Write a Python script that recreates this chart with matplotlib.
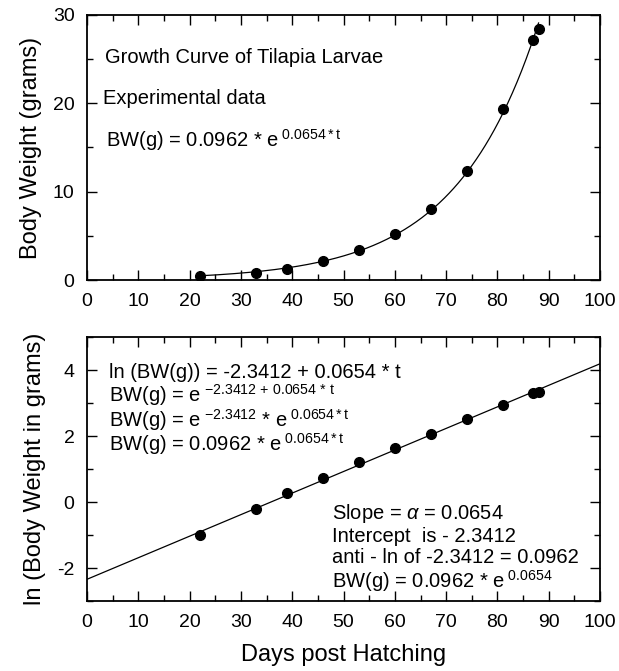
import numpy as np
import matplotlib
matplotlib.use("Agg")
import matplotlib.pyplot as plt
from matplotlib.ticker import MultipleLocator

plt.rcParams['font.family'] = ['Liberation Sans', 'DejaVu Sans']
plt.rcParams['mathtext.fontset'] = 'custom'
plt.rcParams['mathtext.rm'] = 'Liberation Sans'
plt.rcParams['mathtext.it'] = 'Liberation Sans:italic'
plt.rcParams['axes.unicode_minus'] = False

# data
days = [22, 33, 39, 46, 53, 60, 67, 74, 81, 87, 88]
weight = [0.4, 0.8, 1.3, 2.1, 3.4, 5.2, 8.0, 12.3, 19.4, 27.2, 28.4]
ln_weight = [-1.0, -0.22, 0.28, 0.73, 1.21, 1.64, 2.07, 2.51, 2.96, 3.30, 3.34]

intercept = -2.3412
slope = 0.0654

fig = plt.figure(figsize=(6.19, 6.71), dpi=100)
ax1 = fig.add_axes([0.1405, 0.5827, 0.829, 0.395])
ax2 = fig.add_axes([0.1405, 0.1043, 0.829, 0.393])

def style(ax):
    for s in ax.spines.values():
        s.set_linewidth(1.3)
    ax.tick_params(which='both', direction='in', top=True, right=True,
                   labelsize=14, width=1.0)
    ax.tick_params(which='major', length=7.5, pad=9)
    ax.tick_params(which='minor', length=4)
    ax.set_xlim(0, 100)
    ax.xaxis.set_major_locator(MultipleLocator(10))
    ax.xaxis.set_minor_locator(MultipleLocator(5))

# top: growth curve
d = np.array(days, dtype=float)
w = np.array(weight)
# exponential fit weighted towards large values (approx. least squares in linear space)
b, a = np.polyfit(d, np.log(w), 1, w=np.sqrt(w))
t = np.linspace(min(days), max(days), 300)
ax1.plot(t, np.exp(a + b * t), color='black', lw=0.9)
ax1.plot(days, weight, 'o', color='black', ms=7)
style(ax1)
ax1.set_ylim(0, 30)
ax1.yaxis.set_major_locator(MultipleLocator(10))
ax1.yaxis.set_minor_locator(MultipleLocator(5))
ax1.set_ylabel('Body Weight (grams)', fontsize=17, labelpad=8)

fs = 14.5
ax1.text(3.5, 25.2, 'Growth Curve of Tilapia Larvae', fontsize=fs, va='center')
ax1.text(3.2, 20.5, 'Experimental data', fontsize=fs, va='center')
ax1.text(3.8, 15.8, r'BW(g) = 0.0962 * e$^{\ \mathregular{0.0654*t}}$', fontsize=fs, va='center')

# bottom: ln transform
tl = np.linspace(0, 100, 2)
ax2.plot(tl, intercept + slope * tl, color='black', lw=0.9)
ax2.plot(days, ln_weight, 'o', color='black', ms=7)
style(ax2)
ax2.set_ylim(-3, 5)
ax2.yaxis.set_major_locator(MultipleLocator(2))
ax2.yaxis.set_minor_locator(MultipleLocator(1))
ax2.set_ylabel('ln (Body Weight in grams)', fontsize=17, labelpad=8)
ax2.set_xlabel('Days post Hatching', fontsize=17, labelpad=10)

left_lines = [
    'ln (BW(g)) = -2.3412 + 0.0654 * t',
    r'BW(g) = e$^{\ \mathregular{-2.3412\,+\,0.0654\,*\,t}}$',
    r'BW(g) = e$^{\ \mathregular{-2.3412}}$ * e$^{\ \mathregular{0.0654*t}}$',
    r'BW(g) = 0.0962 * e$^{\ \mathregular{0.0654*t}}$',
]
left_y = [3.94, 3.25, 2.5, 1.76]
for s, y in zip(left_lines, left_y):
    ax2.text(4.3, y, s, fontsize=fs, va='center')

right_lines = [
    r'Slope = $\alpha$ = 0.0654',
    'Intercept  is - 2.3412',
    'anti - ln of -2.3412 = 0.0962',
    r'BW(g) = 0.0962 * e$^{\ \mathregular{0.0654}}$',
]
right_y = [-0.36, -1.03, -1.69, -2.38]
for s, y in zip(right_lines, right_y):
    ax2.text(47.8, y, s, fontsize=fs, va='center')

fig.savefig('out.png', dpi=100)
